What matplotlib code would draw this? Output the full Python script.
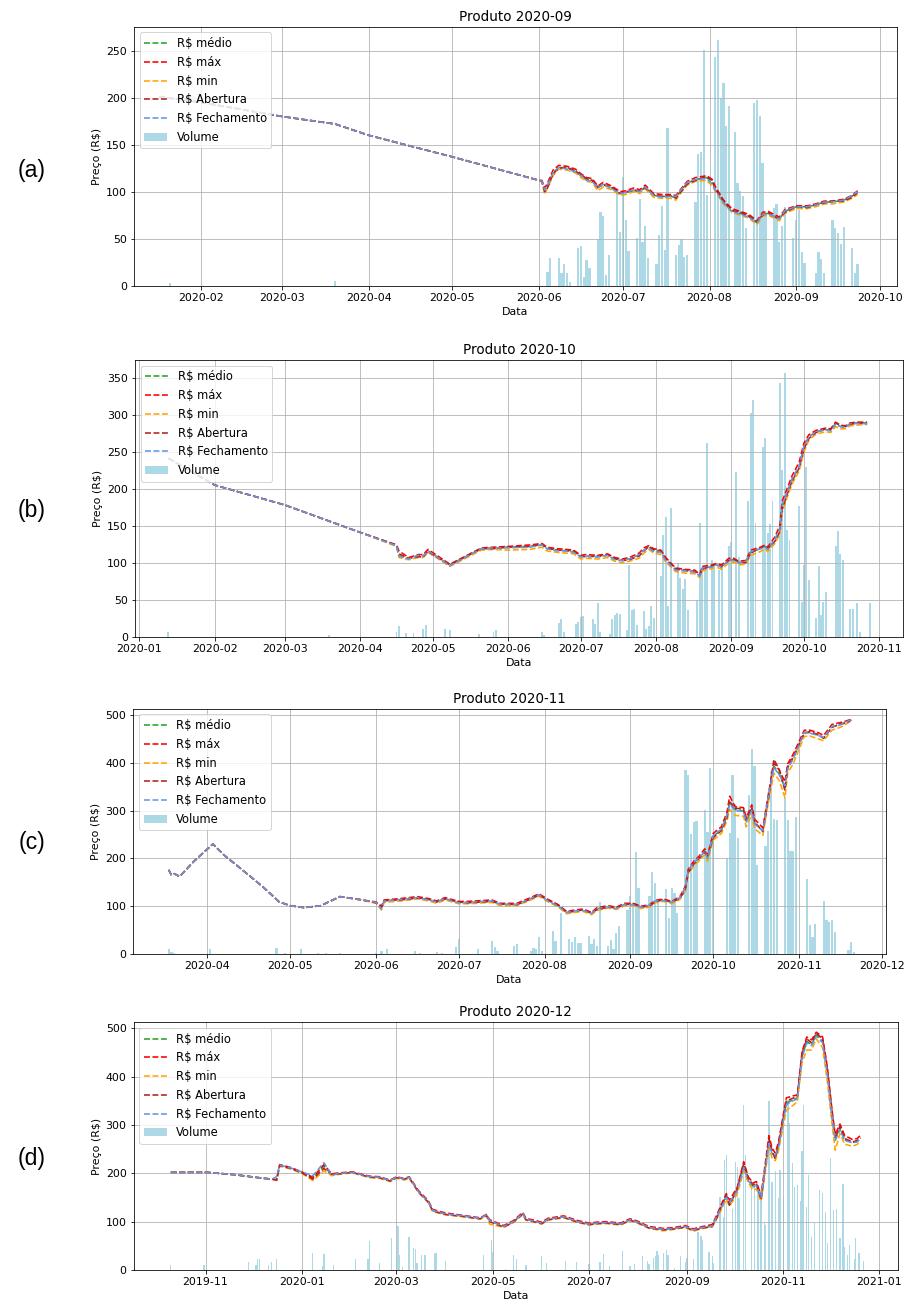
import matplotlib
matplotlib.use("Agg")
import matplotlib.pyplot as plt
import matplotlib.dates as mdates
import pandas as pd

W, H, DPI = 907, 1303, 72
plt.rcParams['font.size'] = 11

# ---------------- Produto 2020-09 ----------------
a_dates = ['2020-01-17', '2020-02-01', '2020-03-01', '2020-03-20', '2020-04-01', '2020-05-01',
           '2020-06-01', '2020-06-02', '2020-06-03', '2020-06-04', '2020-06-06', '2020-06-08',
           '2020-06-11', '2020-06-14', '2020-06-16', '2020-06-18', '2020-06-20', '2020-06-22',
           '2020-06-24', '2020-06-27', '2020-06-30', '2020-07-02', '2020-07-05', '2020-07-07',
           '2020-07-09', '2020-07-12', '2020-07-15', '2020-07-18', '2020-07-20', '2020-07-21',
           '2020-07-24', '2020-07-27', '2020-07-31', '2020-08-02', '2020-08-03', '2020-08-06',
           '2020-08-09', '2020-08-12', '2020-08-15', '2020-08-18', '2020-08-20', '2020-08-22',
           '2020-08-24', '2020-08-26', '2020-08-28', '2020-09-01', '2020-09-05', '2020-09-08',
           '2020-09-11', '2020-09-14', '2020-09-18', '2020-09-21', '2020-09-23']
a_medio = [201, 195, 180, 172, 160, 137, 112, 111, 101, 106, 120, 126, 125, 122, 117, 113, 112, 104,
           108, 104, 98, 99, 102, 100, 105, 96, 95, 95, 94, 98, 109, 113, 115, 110, 104, 89, 80, 77,
           74, 67, 76, 77, 74, 71, 79, 84, 84, 86, 89, 89, 91, 95, 100]
a_max = [201, 195, 180, 172, 160, 137, 112, 112, 104, 109, 123, 128, 127, 124, 119, 115, 114, 106,
         110, 106, 100, 101, 104, 102, 107, 98, 97, 97, 96, 100, 111, 115, 117, 113, 106, 91, 82, 79,
         76, 69, 78, 79, 76, 73, 81, 85, 85, 87, 90, 90, 92, 96, 101]
a_min = [201, 195, 180, 172, 160, 137, 112, 110, 97, 104, 117, 124, 123, 120, 115, 111, 110, 101,
         105, 102, 96, 97, 100, 98, 103, 94, 93, 93, 91, 96, 107, 111, 112, 106, 101, 87, 78, 75,
         72, 65, 74, 75, 72, 69, 77, 82, 82, 84, 87, 87, 89, 93, 97]
a_abert = [201, 195, 180, 172, 160, 137, 112, 111, 100, 104, 119, 125, 126, 122, 118, 114, 112, 105,
           107, 105, 98, 100, 101, 101, 104, 97, 95, 96, 93, 97, 108, 112, 116, 112, 103, 90, 80, 78,
           74, 68, 75, 78, 73, 72, 78, 84, 83, 86, 88, 90, 90, 94, 99]
a_fech = [201, 195, 180, 172, 160, 137, 112, 111, 102, 107, 120, 126, 124, 121, 117, 112, 111, 104,
          108, 103, 98, 99, 102, 100, 105, 96, 94, 95, 95, 99, 110, 113, 114, 108, 102, 88, 79, 76,
          73, 67, 76, 76, 74, 71, 80, 84, 84, 86, 89, 89, 91, 96, 100]
a_vol_dates = ['2020-01-21', '2020-03-20',
               '2020-06-04', '2020-06-05', '2020-06-08', '2020-06-09', '2020-06-10', '2020-06-11', '2020-06-12',
               '2020-06-15', '2020-06-16', '2020-06-17', '2020-06-18', '2020-06-19',
               '2020-06-22', '2020-06-23', '2020-06-24', '2020-06-25', '2020-06-26',
               '2020-06-29', '2020-06-30', '2020-07-01', '2020-07-02', '2020-07-03',
               '2020-07-06', '2020-07-07', '2020-07-08', '2020-07-09', '2020-07-10',
               '2020-07-13', '2020-07-14', '2020-07-15', '2020-07-16', '2020-07-17',
               '2020-07-20', '2020-07-21', '2020-07-22', '2020-07-23', '2020-07-24',
               '2020-07-27', '2020-07-28', '2020-07-29', '2020-07-30', '2020-07-31',
               '2020-08-03', '2020-08-04', '2020-08-05', '2020-08-06', '2020-08-07', '2020-08-08',
               '2020-08-10', '2020-08-11', '2020-08-12', '2020-08-13', '2020-08-14',
               '2020-08-17', '2020-08-18', '2020-08-19', '2020-08-20', '2020-08-21',
               '2020-08-24', '2020-08-25', '2020-08-26', '2020-08-27', '2020-08-28',
               '2020-08-31', '2020-09-01', '2020-09-02', '2020-09-03', '2020-09-04',
               '2020-09-08', '2020-09-09', '2020-09-10', '2020-09-11',
               '2020-09-14', '2020-09-15', '2020-09-16', '2020-09-17', '2020-09-18',
               '2020-09-21', '2020-09-22', '2020-09-23']
a_vol = [3, 5,
         15, 29, 29, 13, 23, 14, 4,
         40, 42, 9, 27, 19,
         50, 78, 74, 11, 33,
         99, 57, 116, 70, 37,
         51, 92, 46, 63, 29,
         23, 54, 85, 38, 168,
         33, 43, 50, 30, 33,
         89, 140, 142, 251, 96,
         243, 261, 200, 216, 170, 191,
         163, 109, 101, 95, 61,
         194, 198, 181, 130, 77,
         83, 87, 47, 63, 84,
         51, 70, 80, 36, 24,
         13, 36, 28, 13,
         70, 61, 56, 44, 62,
         40, 13, 23]

# ---------------- Produto 2020-10 ----------------
b_dates = ['2020-01-13', '2020-02-01', '2020-03-01', '2020-04-01', '2020-04-16', '2020-04-17',
           '2020-04-21', '2020-04-25', '2020-04-27', '2020-04-29', '2020-05-08', '2020-05-21',
           '2020-05-26', '2020-06-01', '2020-06-10', '2020-06-15', '2020-06-17', '2020-06-21',
           '2020-06-25', '2020-06-28', '2020-07-01', '2020-07-03', '2020-07-08', '2020-07-12',
           '2020-07-15', '2020-07-18', '2020-07-21', '2020-07-25', '2020-07-27', '2020-07-29',
           '2020-07-31', '2020-08-03', '2020-08-05', '2020-08-09', '2020-08-13', '2020-08-17',
           '2020-08-19', '2020-08-20', '2020-08-24', '2020-08-26', '2020-08-28', '2020-08-31',
           '2020-09-02', '2020-09-04', '2020-09-07', '2020-09-09', '2020-09-13', '2020-09-15',
           '2020-09-16', '2020-09-19', '2020-09-21', '2020-09-22', '2020-09-24', '2020-09-26',
           '2020-09-29', '2020-10-01', '2020-10-03', '2020-10-06', '2020-10-10', '2020-10-12',
           '2020-10-14', '2020-10-16', '2020-10-18', '2020-10-20', '2020-10-23', '2020-10-27']
b_medio = [241, 205, 178, 141, 123, 110, 105, 110, 109, 116, 97, 119, 120, 121, 122, 124, 119, 117,
           116, 115, 108, 109, 108, 110, 105, 103, 105, 110, 117, 121, 116, 115, 104, 91, 89, 88,
           82, 92, 95, 97, 94, 104, 104, 100, 101, 114, 119, 122, 118, 131, 144, 176, 194, 212,
           230, 257, 270, 277, 280, 279, 288, 284, 283, 288, 289, 289]
b_max = [241, 205, 178, 141, 124, 116, 107, 111, 111, 118, 98, 120, 121, 122, 124, 126, 121, 119,
         118, 117, 110, 111, 110, 112, 107, 105, 107, 113, 120, 123, 119, 117, 107, 93, 91, 90,
         84, 95, 97, 99, 97, 106, 106, 102, 103, 117, 121, 124, 121, 135, 150, 183, 200, 217,
         236, 262, 273, 279, 282, 281, 290, 286, 285, 289, 290, 290]
b_min = [241, 205, 178, 141, 122, 107, 104, 107, 107, 114, 95, 117, 118, 117, 118, 121, 116, 114,
         113, 112, 105, 106, 105, 107, 102, 100, 102, 106, 113, 118, 113, 111, 101, 88, 86, 85,
         80, 89, 92, 94, 91, 100, 101, 97, 98, 110, 115, 119, 115, 126, 138, 168, 188, 206,
         224, 250, 266, 274, 277, 276, 284, 281, 281, 285, 286, 287]
b_abert = [241, 205, 178, 141, 124, 112, 106, 108, 108, 115, 97, 119, 119, 121, 122, 125, 120, 117,
           117, 116, 109, 108, 109, 111, 106, 103, 104, 109, 116, 122, 118, 116, 105, 92, 90, 88,
           83, 91, 96, 98, 95, 103, 105, 101, 100, 113, 120, 123, 119, 129, 142, 172, 192, 210,
           228, 254, 268, 276, 281, 280, 289, 285, 284, 287, 289, 288]
b_fech = [241, 205, 178, 141, 123, 109, 105, 110, 109, 116, 96, 119, 120, 120, 121, 124, 119, 116,
          116, 114, 108, 109, 108, 110, 104, 103, 105, 111, 117, 120, 115, 114, 103, 90, 89, 87,
          82, 93, 94, 97, 94, 104, 103, 100, 102, 115, 119, 121, 118, 132, 146, 178, 195, 213,
          231, 258, 270, 277, 280, 278, 287, 284, 283, 288, 288, 288]
b_vol_dates = ['2020-01-13', '2020-03-19',
               '2020-04-16', '2020-04-17', '2020-04-20', '2020-04-23', '2020-04-27', '2020-04-28',
               '2020-05-06', '2020-05-08', '2020-05-20', '2020-05-26', '2020-05-27',
               '2020-06-15', '2020-06-16', '2020-06-22', '2020-06-23', '2020-06-24', '2020-06-29', '2020-06-30',
               '2020-07-01', '2020-07-02', '2020-07-06', '2020-07-07', '2020-07-08', '2020-07-09',
               '2020-07-13', '2020-07-14', '2020-07-15', '2020-07-16', '2020-07-17',
               '2020-07-20', '2020-07-21', '2020-07-22', '2020-07-23', '2020-07-24',
               '2020-07-27', '2020-07-28', '2020-07-29', '2020-07-30', '2020-07-31',
               '2020-08-03', '2020-08-04', '2020-08-05', '2020-08-06', '2020-08-07',
               '2020-08-10', '2020-08-11', '2020-08-12', '2020-08-13', '2020-08-14',
               '2020-08-18', '2020-08-19', '2020-08-20', '2020-08-21', '2020-08-22',
               '2020-08-24', '2020-08-25', '2020-08-27', '2020-08-28', '2020-08-31',
               '2020-09-01', '2020-09-03', '2020-09-04', '2020-09-08', '2020-09-09', '2020-09-10', '2020-09-11',
               '2020-09-14', '2020-09-15', '2020-09-16', '2020-09-17', '2020-09-18',
               '2020-09-21', '2020-09-22', '2020-09-23', '2020-09-24', '2020-09-25', '2020-09-29', '2020-09-30',
               '2020-10-01', '2020-10-02', '2020-10-03', '2020-10-06', '2020-10-07', '2020-10-08',
               '2020-10-09', '2020-10-10', '2020-10-14', '2020-10-15', '2020-10-16', '2020-10-17',
               '2020-10-20', '2020-10-21', '2020-10-23', '2020-10-24', '2020-10-28']
b_vol = [7, 2,
         7, 14, 5, 5, 10, 16,
         10, 9, 4, 7, 9,
         7, 2, 19, 24, 7, 17, 20,
         26, 28, 24, 17, 45, 7,
         4, 24, 29, 32, 31,
         9, 97, 36, 38, 16,
         35, 11, 14, 41, 25,
         82, 138, 162, 41, 174,
         100, 79, 65, 78, 36,
         49, 154, 90, 96, 262,
         104, 91, 90, 94, 122,
         128, 222, 108, 184, 302, 320, 154,
         257, 268, 140, 153, 184,
         343, 225, 356, 144, 131, 176, 47,
         97, 229, 76, 25, 95, 29,
         47, 61, 123, 143, 112, 104,
         38, 38, 46, 7, 45]

# ---------------- Produto 2020-11 ----------------
c_dates = ['2020-03-18', '2020-03-19', '2020-03-20', '2020-03-22', '2020-03-27', '2020-04-03',
           '2020-04-07', '2020-04-13', '2020-04-21', '2020-04-27', '2020-05-01', '2020-05-06',
           '2020-05-12', '2020-05-19', '2020-05-27', '2020-06-01', '2020-06-03', '2020-06-04',
           '2020-06-10', '2020-06-16', '2020-06-20', '2020-06-23', '2020-06-26', '2020-07-01',
           '2020-07-04', '2020-07-13', '2020-07-16', '2020-07-22', '2020-07-27', '2020-07-30',
           '2020-08-02', '2020-08-06', '2020-08-09', '2020-08-12', '2020-08-15', '2020-08-18',
           '2020-08-20', '2020-08-24', '2020-08-27', '2020-08-30', '2020-09-02', '2020-09-05',
           '2020-09-08', '2020-09-10', '2020-09-13', '2020-09-16', '2020-09-19', '2020-09-21',
           '2020-09-22', '2020-09-24', '2020-09-26', '2020-09-28', '2020-09-29', '2020-10-01',
           '2020-10-04', '2020-10-06', '2020-10-07', '2020-10-09', '2020-10-12', '2020-10-13',
           '2020-10-15', '2020-10-16', '2020-10-19', '2020-10-21', '2020-10-23', '2020-10-25',
           '2020-10-27', '2020-10-28', '2020-10-30', '2020-11-03', '2020-11-05', '2020-11-08',
           '2020-11-10', '2020-11-13', '2020-11-16', '2020-11-18', '2020-11-20']
c_medio = [176, 165, 168, 162, 193, 230, 207, 179, 141, 109, 101, 97, 101, 120, 113,
           108, 98, 111, 114, 118, 114, 109, 116, 108, 108, 111, 104, 104, 116, 124, 113, 101,
           87, 90, 92, 85, 94, 99, 96, 104, 104, 98, 101, 110, 113, 108, 117, 138, 173, 190,
           201, 215, 201, 246, 260, 288, 316, 302, 299, 278, 304, 274, 257, 327, 393, 376, 348,
           390, 410, 463, 463, 458, 452, 475, 480, 484, 490]
c_max = [176, 165, 168, 162, 193, 230, 207, 179, 141, 109, 101, 97, 101, 120, 113,
         109, 100, 113, 116, 120, 116, 111, 118, 110, 110, 113, 106, 106, 118, 126, 115, 103,
         89, 92, 94, 87, 97, 101, 98, 106, 106, 100, 103, 112, 115, 110, 120, 142, 177, 194,
         205, 220, 206, 252, 266, 296, 330, 308, 306, 285, 312, 282, 264, 334, 400, 384, 360,
         398, 418, 468, 468, 463, 457, 480, 484, 487, 491]
c_min = [176, 165, 168, 162, 193, 230, 207, 179, 141, 109, 101, 97, 101, 120, 113,
         106, 92, 108, 111, 115, 111, 106, 113, 105, 105, 108, 101, 101, 113, 121, 110, 98,
         84, 87, 89, 82, 91, 96, 93, 101, 101, 95, 98, 107, 110, 105, 114, 133, 167, 184,
         195, 208, 194, 238, 252, 278, 302, 290, 288, 266, 292, 262, 248, 316, 378, 362, 327,
         378, 398, 455, 456, 450, 446, 468, 474, 480, 488]
c_abert = [176, 165, 168, 162, 193, 230, 207, 179, 141, 109, 101, 97, 101, 120, 113,
           107, 97, 112, 113, 117, 115, 109, 115, 109, 107, 110, 105, 103, 115, 123, 114, 102,
           88, 89, 93, 86, 93, 98, 97, 103, 105, 99, 100, 109, 114, 109, 116, 136, 170, 188,
           200, 213, 203, 243, 258, 285, 318, 305, 303, 280, 306, 276, 256, 324, 407, 385, 342,
           392, 412, 462, 465, 459, 451, 474, 481, 483, 489]
c_fech = [176, 165, 168, 162, 193, 230, 207, 179, 141, 109, 101, 97, 101, 120, 113,
          108, 94, 111, 114, 118, 113, 109, 116, 107, 108, 111, 104, 104, 116, 124, 112, 100,
          87, 90, 91, 85, 95, 99, 95, 104, 103, 98, 102, 111, 112, 108, 118, 140, 175, 191,
          202, 214, 200, 248, 261, 290, 314, 300, 298, 276, 300, 272, 258, 330, 390, 374, 352,
          388, 408, 464, 462, 457, 453, 476, 479, 485, 490]
c_vol_dates = ['2020-03-18', '2020-03-19', '2020-03-20',
               '2020-04-02', '2020-04-26', '2020-04-29',
               '2020-05-05', '2020-05-11', '2020-05-14', '2020-05-19',
               '2020-06-01', '2020-06-03', '2020-06-05', '2020-06-15', '2020-06-17', '2020-06-23', '2020-06-25', '2020-06-30',
               '2020-07-01', '2020-07-08', '2020-07-13', '2020-07-14', '2020-07-15', '2020-07-21',
               '2020-07-22', '2020-07-27', '2020-07-28', '2020-07-29', '2020-07-30', '2020-07-31',
               '2020-08-04', '2020-08-05', '2020-08-07', '2020-08-10', '2020-08-11', '2020-08-12', '2020-08-13',
               '2020-08-14', '2020-08-17', '2020-08-18', '2020-08-19', '2020-08-20', '2020-08-21',
               '2020-08-24', '2020-08-25', '2020-08-26', '2020-08-27', '2020-08-28', '2020-08-31',
               '2020-09-01', '2020-09-02', '2020-09-03', '2020-09-04', '2020-09-08', '2020-09-09', '2020-09-10',
               '2020-09-11', '2020-09-14', '2020-09-15', '2020-09-16', '2020-09-17', '2020-09-18',
               '2020-09-21', '2020-09-22', '2020-09-23', '2020-09-24', '2020-09-25', '2020-09-28',
               '2020-09-29', '2020-09-30',
               '2020-10-01', '2020-10-06', '2020-10-07', '2020-10-08', '2020-10-09', '2020-10-10', '2020-10-14',
               '2020-10-15', '2020-10-16', '2020-10-17', '2020-10-20', '2020-10-21', '2020-10-22', '2020-10-23',
               '2020-10-24', '2020-10-27', '2020-10-28', '2020-10-29', '2020-10-30', '2020-10-31',
               '2020-11-04', '2020-11-05', '2020-11-06', '2020-11-07', '2020-11-10', '2020-11-11',
               '2020-11-12', '2020-11-13', '2020-11-14', '2020-11-19', '2020-11-20', '2020-11-21']
c_vol = [10, 4, 3,
         10, 13, 3,
         10, 3, 3, 2,
         3, 6, 10, 7, 3, 4, 3, 15,
         31, 10, 27, 15, 7, 16,
         20, 6, 12, 10, 36, 6,
         48, 27, 85, 31, 26, 36, 24,
         23, 38, 20, 31, 17, 108,
         17, 29, 10, 43, 59, 92,
         122, 106, 213, 138, 122, 171, 148,
         106, 136, 75, 139, 127, 85,
         384, 374, 251, 276, 278, 302,
         255, 388,
         236, 201, 253, 374, 313, 243, 332,
         428, 393, 187, 225, 257, 383, 283,
         281, 327, 280, 215, 216, 287,
         157, 61, 36, 62, 110, 71,
         66, 71, 45, 8, 26, 5]

# ---------------- Produto 2020-12 ----------------
d_dates = ['2019-10-10', '2019-11-02', '2019-11-20', '2019-12-07', '2019-12-13', '2019-12-16',
           '2019-12-18', '2019-12-25', '2020-01-01', '2020-01-08', '2020-01-15', '2020-01-20',
           '2020-01-25', '2020-02-02', '2020-02-13', '2020-02-19', '2020-02-26', '2020-03-01',
           '2020-03-06', '2020-03-09', '2020-03-15', '2020-03-21', '2020-03-24', '2020-04-01',
           '2020-04-12', '2020-04-23', '2020-04-27', '2020-04-29', '2020-05-08', '2020-05-14',
           '2020-05-20', '2020-05-22', '2020-06-01', '2020-06-05', '2020-06-15', '2020-06-23',
           '2020-07-01', '2020-07-06', '2020-07-12', '2020-07-21', '2020-07-27', '2020-07-31',
           '2020-08-08', '2020-08-17', '2020-08-24', '2020-08-31', '2020-09-05', '2020-09-11',
           '2020-09-17', '2020-09-20', '2020-09-23', '2020-09-26', '2020-09-28', '2020-10-03',
           '2020-10-07', '2020-10-10', '2020-10-13', '2020-10-15', '2020-10-18', '2020-10-23',
           '2020-10-25', '2020-10-27', '2020-10-29', '2020-11-03', '2020-11-07', '2020-11-10',
           '2020-11-13', '2020-11-16', '2020-11-19', '2020-11-22', '2020-11-26', '2020-11-29',
           '2020-12-02', '2020-12-04', '2020-12-07', '2020-12-10', '2020-12-15', '2020-12-18',
           '2020-12-20']
d_medio = [202, 202, 197, 190, 188, 186, 217, 211, 202, 190, 215, 197, 200, 202, 193, 192, 185,
           192, 188, 192, 162, 142, 123, 116, 112, 107, 114, 102, 90, 100, 117, 105, 97, 105, 110,
           101, 95, 97, 98, 95, 104, 100, 88, 84, 86, 90, 83, 88, 91, 110, 131, 152, 138, 166, 215,
           186, 173, 176, 148, 266, 242, 235, 255, 345, 352, 356, 442, 473, 466, 487, 473, 407, 318,
           269, 293, 269, 264, 266, 273]
d_max = [202, 202, 197, 190, 188, 187, 218, 212, 203, 192, 218, 199, 201, 203, 194, 193, 186,
         193, 189, 193, 164, 144, 125, 118, 113, 108, 115, 104, 92, 102, 119, 107, 99, 107, 112,
         103, 97, 99, 100, 97, 106, 102, 90, 86, 88, 92, 85, 90, 94, 114, 137, 158, 144, 172, 224,
         192, 180, 183, 154, 278, 252, 242, 264, 356, 360, 362, 452, 482, 476, 492, 482, 420, 330,
         280, 302, 278, 270, 272, 279]
d_min = [202, 202, 197, 190, 188, 185, 215, 209, 200, 185, 205, 195, 198, 201, 191, 190, 183,
         190, 186, 190, 160, 140, 121, 114, 110, 105, 112, 95, 88, 98, 114, 103, 95, 103, 108,
         99, 93, 95, 96, 93, 102, 98, 86, 81, 84, 88, 80, 86, 89, 106, 126, 146, 132, 158, 205,
         180, 165, 168, 142, 254, 232, 226, 246, 330, 340, 348, 430, 455, 455, 478, 460, 390, 300,
         248, 282, 260, 256, 260, 266]
d_abert = [202, 202, 197, 190, 188, 186, 216, 210, 201, 188, 210, 198, 199, 202, 192, 191, 184,
           191, 188, 191, 161, 141, 122, 115, 111, 106, 113, 100, 89, 99, 116, 104, 96, 104, 109,
           100, 94, 96, 97, 94, 103, 99, 87, 83, 85, 89, 82, 87, 90, 108, 133, 155, 134, 168, 220,
           188, 176, 180, 146, 272, 246, 230, 258, 350, 355, 360, 448, 478, 470, 490, 478, 415, 325,
           272, 298, 272, 265, 268, 274]
d_fech = [202, 202, 197, 190, 188, 193, 217, 211, 203, 195, 222, 196, 200, 202, 193, 192, 185,
          192, 188, 192, 162, 142, 123, 116, 112, 107, 114, 102, 90, 100, 117, 105, 97, 105, 110,
          101, 95, 97, 98, 95, 104, 100, 88, 84, 86, 90, 83, 88, 91, 111, 130, 150, 140, 164, 212,
          184, 172, 175, 150, 262, 240, 238, 252, 342, 350, 354, 440, 470, 464, 484, 470, 404, 315,
          268, 290, 268, 263, 265, 272]
d_vol_dates = ['2019-10-10', '2019-10-31', '2019-11-28',
               '2019-12-03', '2019-12-04', '2019-12-05', '2019-12-11', '2019-12-13', '2019-12-16',
               '2020-01-08', '2020-01-14', '2020-01-15', '2020-01-21',
               '2020-02-04', '2020-02-12', '2020-02-13', '2020-02-19', '2020-02-27',
               '2020-03-02', '2020-03-03', '2020-03-05', '2020-03-09', '2020-03-12', '2020-03-13',
               '2020-03-14', '2020-03-17', '2020-03-19', '2020-03-25', '2020-03-26',
               '2020-04-01', '2020-04-25', '2020-04-30',
               '2020-05-01', '2020-05-09', '2020-05-14', '2020-05-16', '2020-05-22',
               '2020-06-01', '2020-06-04', '2020-06-16', '2020-06-23',
               '2020-07-01', '2020-07-08', '2020-07-10', '2020-07-14', '2020-07-22', '2020-07-27', '2020-07-30',
               '2020-08-04', '2020-08-07', '2020-08-08', '2020-08-11', '2020-08-12', '2020-08-13', '2020-08-14',
               '2020-08-17', '2020-08-19', '2020-08-20', '2020-08-24', '2020-08-28', '2020-08-31',
               '2020-09-01', '2020-09-05', '2020-09-08', '2020-09-10', '2020-09-11', '2020-09-15', '2020-09-17',
               '2020-09-18', '2020-09-22', '2020-09-24', '2020-09-25', '2020-09-26', '2020-09-30',
               '2020-10-02', '2020-10-03', '2020-10-04', '2020-10-07', '2020-10-08', '2020-10-12', '2020-10-14',
               '2020-10-16', '2020-10-18', '2020-10-20', '2020-10-21', '2020-10-23', '2020-10-25', '2020-10-27',
               '2020-10-29', '2020-10-30',
               '2020-11-01', '2020-11-04', '2020-11-05', '2020-11-07', '2020-11-08', '2020-11-10', '2020-11-12',
               '2020-11-13', '2020-11-14', '2020-11-16', '2020-11-17', '2020-11-19', '2020-11-21', '2020-11-24',
               '2020-11-26', '2020-11-28', '2020-11-29',
               '2020-12-01', '2020-12-03', '2020-12-05', '2020-12-07', '2020-12-09', '2020-12-10',
               '2020-12-12', '2020-12-13', '2020-12-16', '2020-12-17', '2020-12-19', '2020-12-22']
d_vol = [10, 10, 17,
         10, 22, 22, 10, 17, 22,
         36, 8, 33, 10,
         22, 22, 59, 14, 67,
         90, 31, 6, 69, 45, 43,
         15, 32, 31, 36, 36,
         19, 31, 62,
         38, 3, 31, 22, 10,
         29, 15, 19, 17,
         12, 17, 33, 8, 39, 8, 12,
         29, 19, 12, 24, 28, 39, 31,
         35, 41, 31, 5, 28, 17,
         24, 22, 79, 70, 62, 38, 28,
         15, 152, 110, 228, 238, 126,
         224, 214, 148, 342, 238, 186, 181,
         176, 166, 97, 93, 349, 183, 204,
         148, 207,
         152, 352, 304, 221, 171, 176, 142,
         247, 342, 131, 197, 69, 97, 166,
         159, 121, 55,
         231, 124, 126, 66, 178, 48,
         31, 52, 22, 66, 36, 19]

titles = ['Produto 2020-09', 'Produto 2020-10', 'Produto 2020-11', 'Produto 2020-12']
tags = ['(a)', '(b)', '(c)', '(d)']

panels = [
    (a_dates, a_medio, a_max, a_min, a_abert, a_fech, a_vol_dates, a_vol),
    (b_dates, b_medio, b_max, b_min, b_abert, b_fech, b_vol_dates, b_vol),
    (c_dates, c_medio, c_max, c_min, c_abert, c_fech, c_vol_dates, c_vol),
    (d_dates, d_medio, d_max, d_min, d_abert, d_fech, d_vol_dates, d_vol),
]

# axes boxes in pixels: left, top, right, bottom
boxes = [(134, 26.7, 896.7, 285.7), (135, 360, 903.3, 636.7),
         (133.3, 708.7, 885.7, 954), (133.6, 1022.3, 897.7, 1270)]
xlims = [('2020-01-08', '2020-10-07'), ('2019-12-30 05:00', '2020-11-10 22:00'),
         ('2020-03-05 05:00', '2020-12-02 11:00'), ('2019-09-16 10:00', '2021-01-12 14:00')]
ylims = [275.5, 374, 513, 512.4]
tag_y = [170, 510, 843, 1158]

fig = plt.figure(figsize=(W / DPI, H / DPI), dpi=DPI)

for i, (dates, medio, mx, mn, ab, fe, vdates, vol) in enumerate(panels):
    for name, s in [('medio', medio), ('max', mx), ('min', mn), ('abert', ab), ('fech', fe)]:
        if len(s) != len(dates):
            raise ValueError(f"panel {i} {name}: {len(s)} vs {len(dates)}")
    if len(vdates) != len(vol):
        raise ValueError(f"panel {i} vol: {len(vol)} vs {len(vdates)}")

    l, t, r, b = boxes[i]
    ax = fig.add_axes([l / W, 1 - b / H, (r - l) / W, (b - t) / H])
    x = pd.to_datetime(dates)
    lw = 1.6
    ax.plot(x, medio, '--', lw=lw, color='tab:green', label='R$ médio')
    ax.plot(x, mx, '--', lw=lw, color='red', label='R$ máx')
    ax.plot(x, mn, '--', lw=lw, color='orange', label='R$ min')
    ax.plot(x, ab, '--', lw=lw, color='firebrick', label='R$ Abertura')
    ax.plot(x, fe, '--', lw=lw, color='cornflowerblue', label='R$ Fechamento')
    ax.bar(pd.to_datetime(vdates), vol, width=0.8, color='lightblue', label='Volume')

    ax.set_xlim(pd.Timestamp(xlims[i][0]), pd.Timestamp(xlims[i][1]))
    ax.set_ylim(0, ylims[i])
    if i < 3:
        ax.xaxis.set_major_locator(mdates.MonthLocator())
    else:
        ax.xaxis.set_major_locator(mdates.MonthLocator(bymonth=[1, 3, 5, 7, 9, 11]))
    ax.xaxis.set_major_formatter(mdates.DateFormatter('%Y-%m'))
    ax.grid(True)
    ax.set_title(titles[i], fontsize=13.5)
    ax.set_xlabel('Data')
    ax.set_ylabel('Preço (R$)')
    ax.legend(loc='upper left', fontsize=11.5)

    fig.text(31.7 / W, 1 - tag_y[i] / H, tags[i], fontsize=23, family='Liberation Sans',
             ha='center', va='center')

fig.savefig('out.png', dpi=DPI)
